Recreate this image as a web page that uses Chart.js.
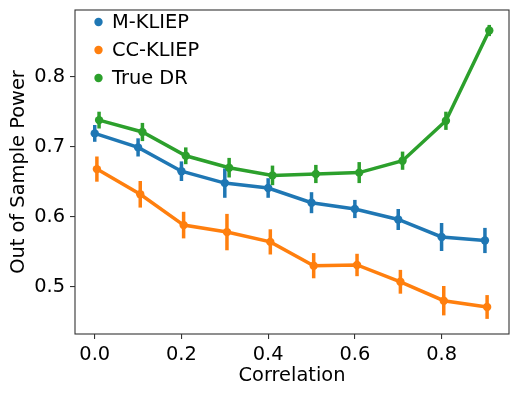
<!DOCTYPE html>
<html>
<head>
<meta charset="utf-8">
<script src="https://cdn.jsdelivr.net/npm/chart.js@4"></script>
<style>
    html, body { margin: 0; padding: 0; background: #ffffff; }
    canvas { display: block; }
</style>
</head>
<body>
<canvas id="powerChart" width="519" height="397"></canvas>
<script>
(function() {
    'use strict';

    // correlation levels on the x axis
    var correlation = [0.0, 0.1, 0.2, 0.3, 0.4, 0.5, 0.6, 0.7, 0.8, 0.9];

    // out of sample power
    var mKliep = [0.719, 0.699, 0.665, 0.648, 0.641, 0.620, 0.611, 0.596, 0.571, 0.566];
    var mKliepErr = [0.012, 0.013, 0.014, 0.021, 0.014, 0.015, 0.013, 0.015, 0.020, 0.018];

    var ccKliep = [0.668, 0.632, 0.588, 0.578, 0.564, 0.530, 0.531, 0.507, 0.480, 0.471];
    var ccKliepErr = [0.018, 0.019, 0.019, 0.026, 0.018, 0.018, 0.016, 0.017, 0.021, 0.017];

    var trueDr = [0.738, 0.721, 0.687, 0.670, 0.659, 0.661, 0.663, 0.680, 0.737, 0.866];
    var trueDrErr = [0.012, 0.013, 0.012, 0.014, 0.014, 0.013, 0.015, 0.013, 0.013, 0.008];

    // tick labels
    var xTicks = [0.0, 0.2, 0.4, 0.6, 0.8];
    var yTicks = [0.5, 0.6, 0.7, 0.8];

    var FONT = '"DejaVu Sans", sans-serif';
    var FONT_SIZE = 19.4;
    var AXIS_COLOR = '#333333';

    function toPoints(values, shift) {
        return values.map(function(v, i) {
            return { x: correlation[i] + shift, y: v };
        });
    }

    function makeSeries(label, values, errors, shift, color, order) {
        return {
            label: label,
            data: toPoints(values, shift),
            errors: errors,
            borderColor: color,
            backgroundColor: color,
            pointBackgroundColor: color,
            pointBorderWidth: 0,
            pointRadius: 4.2,
            pointHoverRadius: 4.2,
            borderWidth: 3.5,
            tension: 0,
            order: order
        };
    }

    // vertical error bars, drawn through the chart's own scales
    var errorBarPlugin = {
        id: 'errorBars',
        afterDatasetDraw: function(chart, args) {
            var ds = chart.data.datasets[args.index];
            if (!ds.errors) {
                return;
            }
            var xs = chart.scales.x;
            var ys = chart.scales.y;
            var ctx = chart.ctx;
            ctx.save();
            ctx.strokeStyle = ds.borderColor;
            ctx.lineWidth = 3.5;
            ctx.lineCap = 'butt';
            ds.data.forEach(function(p, i) {
                var px = xs.getPixelForValue(p.x);
                ctx.beginPath();
                ctx.moveTo(px, ys.getPixelForValue(p.y - ds.errors[i]));
                ctx.lineTo(px, ys.getPixelForValue(p.y + ds.errors[i]));
                ctx.stroke();
            });
            ctx.restore();
        }
    };

    // full box around the plot plus the legend inside it
    var frameLegendPlugin = {
        id: 'frameLegend',
        afterDraw: function(chart) {
            var ctx = chart.ctx;
            var area = chart.chartArea;
            ctx.save();
            ctx.strokeStyle = AXIS_COLOR;
            ctx.lineWidth = 1.1;
            ctx.strokeRect(area.left, area.top, area.right - area.left, area.bottom - area.top);

            ctx.font = FONT_SIZE + 'px ' + FONT;
            ctx.textBaseline = 'middle';
            ctx.textAlign = 'left';
            chart.data.datasets.forEach(function(ds, i) {
                var y = area.top + 12 + i * 28;
                ctx.fillStyle = ds.borderColor;
                ctx.beginPath();
                ctx.arc(area.left + 23.5, y, 4.2, 0, Math.PI * 2);
                ctx.fill();
                ctx.fillStyle = '#000000';
                ctx.fillText(ds.label, area.left + 37, y + 1);
            });
            ctx.restore();
        }
    };

    var ctx = document.getElementById('powerChart').getContext('2d');

    new Chart(ctx, {
        type: 'line',
        data: {
            datasets: [
                makeSeries('M-KLIEP', mKliep, mKliepErr, 0, '#1f77b4', 3),
                makeSeries('CC-KLIEP', ccKliep, ccKliepErr, 0.005, '#ff7f0e', 2),
                makeSeries('True DR', trueDr, trueDrErr, 0.01, '#2ca02c', 1)
            ]
        },
        options: {
            responsive: false,
            animation: false,
            events: [],
            layout: {
                padding: { left: 0, right: 10, top: 10, bottom: 0 }
            },
            plugins: {
                legend: { display: false },
                tooltip: { enabled: false }
            },
            scales: {
                x: {
                    type: 'linear',
                    min: -0.0455,
                    max: 0.9555,
                    afterBuildTicks: function(scale) {
                        scale.ticks = xTicks.map(function(v) { return { value: v }; });
                    },
                    afterFit: function(scale) {
                        scale.height = 63;
                        scale.paddingLeft = 0;
                        scale.paddingRight = 0;
                    },
                    grid: {
                        drawOnChartArea: false,
                        drawTicks: true,
                        tickLength: 5,
                        tickColor: AXIS_COLOR,
                        lineWidth: 1.1
                    },
                    border: { display: false },
                    ticks: {
                        padding: 4,
                        color: '#000000',
                        maxRotation: 0,
                        font: { family: FONT, size: FONT_SIZE },
                        callback: function(v) { return Number(v).toFixed(1); }
                    },
                    title: {
                        display: true,
                        text: 'Correlation',
                        color: '#000000',
                        font: { family: FONT, size: FONT_SIZE },
                        padding: { top: 0, bottom: 9 }
                    }
                },
                y: {
                    type: 'linear',
                    min: 0.4324,
                    max: 0.8953,
                    afterBuildTicks: function(scale) {
                        scale.ticks = yTicks.map(function(v) { return { value: v }; });
                    },
                    afterFit: function(scale) {
                        scale.width = 75;
                        scale.paddingTop = 0;
                        scale.paddingBottom = 0;
                    },
                    grid: {
                        drawOnChartArea: false,
                        drawTicks: true,
                        tickLength: 5,
                        tickColor: AXIS_COLOR,
                        lineWidth: 1.1
                    },
                    border: { display: false },
                    ticks: {
                        padding: 5,
                        color: '#000000',
                        font: { family: FONT, size: FONT_SIZE },
                        callback: function(v) { return Number(v).toFixed(1); }
                    },
                    title: {
                        display: true,
                        text: 'Out of Sample Power',
                        color: '#000000',
                        font: { family: FONT, size: FONT_SIZE },
                        padding: { top: 7, bottom: 0 }
                    }
                }
            }
        },
        plugins: [errorBarPlugin, frameLegendPlugin]
    });
})();
</script>
</body>
</html>
